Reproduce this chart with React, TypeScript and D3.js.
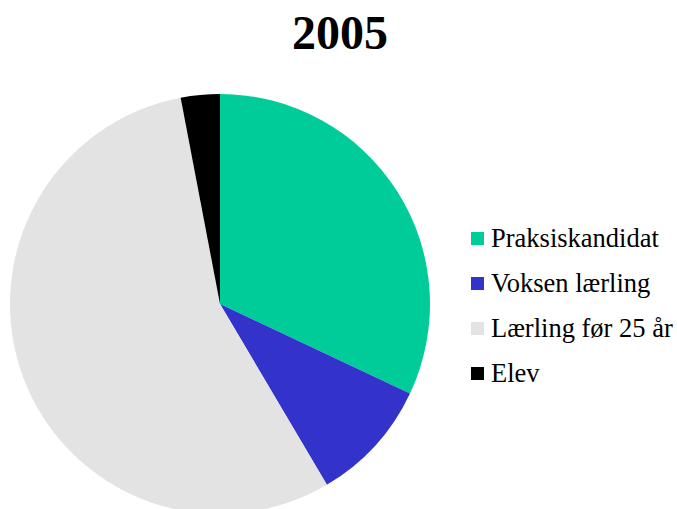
import React from 'react'
import * as d3 from 'd3'

const categories = ['Praksiskandidat', 'Voksen lærling', 'Lærling før 25 år', 'Elev']
const values = [32.0, 9.5, 55.5, 3.0]
const colors = ['#00CC99', '#3333CC', '#E3E3E3', '#000000']
const title = '2005'

export default function App() {
    const width = 677
    const height = 509
    const cx = 220
    const cy = 304
    const radius = 210

    const pie = d3.pie<number>().sort(null).value(d => d)
    const arcs = pie(values)
    const arc = d3.arc<d3.PieArcDatum<number>>().innerRadius(0).outerRadius(radius)

    // legend rows
    const legendY = d3.scalePoint<string>().domain(categories).range([238, 373])

    return (
        <svg width={width} height={height} style={{ position: 'absolute', left: 0, top: 0 }}>
            <text x={340} y={49} textAnchor="middle" fontSize={48} fontWeight="bold"
                style={{ fontFamily: 'Liberation Serif' }}>{title}</text>
            <g transform={`translate(${cx}, ${cy})`}>
                {arcs.map((a, i) => (
                    <path key={i} d={arc(a) || ''} fill={colors[i]} />
                ))}
            </g>
            {categories.map((c, i) => {
                const y = legendY(c) || 0
                return (
                    <g key={c}>
                        <rect x={471} y={y - 6} width={13} height={13} fill={colors[i]} />
                        <text x={491} y={y + 9} fontSize={26.5} style={{ fontFamily: 'Liberation Serif' }}>{c}</text>
                    </g>
                )
            })}
        </svg>
    )
}
